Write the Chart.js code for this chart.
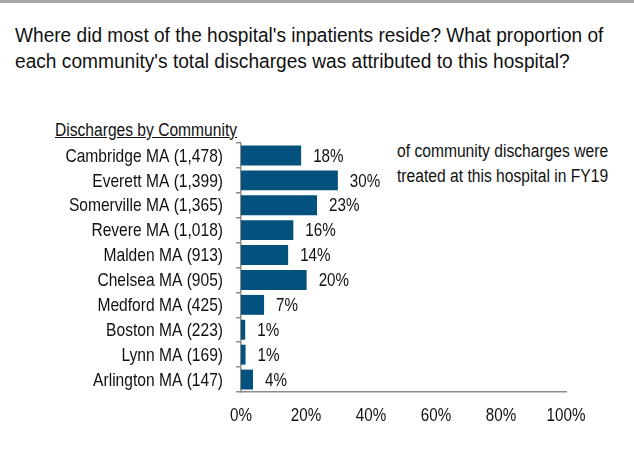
<!DOCTYPE html>
<html>
<head>
<meta charset="utf-8">
<script src="https://cdn.jsdelivr.net/npm/chart.js@4.4.1/dist/chart.umd.min.js"></script>
<style>
  html, body { margin: 0; padding: 0; background: #fff; }
  body { width: 634px; height: 455px; position: relative; overflow: hidden;
         font-family: 'Liberation Sans', Arial, sans-serif; color: #111; }
  .topbar { position: absolute; left: 0; top: 0; width: 634px; height: 3px; background: #a6a6a6; }
  .txt { position: absolute; white-space: nowrap; transform-origin: 0 0; }
  .title { left: 15px; font-size: 20px; line-height: 26px; }
  .subhead { left: 55px; top: 118px; font-size: 18px; line-height: 25px; text-decoration: underline; }
  .note { left: 397px; font-size: 18px; line-height: 25px; }
  canvas { position: absolute; left: 0; top: 0; }
</style>
</head>
<body>
<div class="topbar"></div>
<div class="txt title" style="top:22px" data-w="588">Where did most of the hospital's inpatients reside? What proportion of</div>
<div class="txt title" style="top:48px" data-w="555">each community's total discharges was attributed to this hospital?</div>
<div class="txt subhead" data-w="182">Discharges by Community</div>
<div class="txt note" style="top:139px" data-w="211">of community discharges were</div>
<div class="txt note" style="top:164px" data-w="211">treated at this hospital in FY19</div>
<canvas id="chart" width="634" height="455"></canvas>
<script>
const communities = ['Cambridge MA (1,478)', 'Everett MA (1,399)', 'Somerville MA (1,365)', 'Revere MA (1,018)',
  'Malden MA (913)', 'Chelsea MA (905)', 'Medford MA (425)', 'Boston MA (223)', 'Lynn MA (169)', 'Arlington MA (147)'];
const share = [18.5, 29.8, 23.4, 16.1, 14.5, 20.2, 7.1, 1.3, 1.4, 3.7];
const shareText = ['18%', '30%', '23%', '16%', '14%', '20%', '7%', '1%', '1%', '4%'];
const xTicks = [0, 20, 40, 60, 80, 100];

const FONT = "'Liberation Sans', Arial, sans-serif";
const axisGrey = '#8c8c8c';

// no narrow font installed: squeeze the html text to the widths in the original
document.querySelectorAll('.txt').forEach(el => {
  const target = +el.dataset.w;
  el.style.transform = 'scaleX(' + (target / el.offsetWidth) + ')';
});

// same trick for canvas text
function narrowText(ctx, text, x, y, align, sx) {
  ctx.save();
  ctx.translate(x, y);
  ctx.scale(sx, 1);
  ctx.textAlign = align;
  ctx.fillText(text, 0, 0);
  ctx.restore();
}

const narrowLabels = {
  id: 'narrowLabels',
  afterDraw(chart) {
    const ctx = chart.ctx;
    const xs = chart.scales.x, ys = chart.scales.y;
    ctx.save();
    ctx.fillStyle = '#111';
    ctx.textBaseline = 'middle';
    ctx.font = '19px ' + FONT;
    // community names
    communities.forEach((name, i) => {
      narrowText(ctx, name, ys.right - 18, ys.getPixelForTick(i) + 1, 'right', 0.82);
    });
    // x ticks
    xTicks.forEach(v => {
      narrowText(ctx, v + '%', xs.getPixelForValue(v), chart.chartArea.bottom + 24, 'center', 0.8);
    });
    // percent labels at bar ends
    chart.getDatasetMeta(0).data.forEach((bar, i) => {
      narrowText(ctx, shareText[i], bar.x + 12, bar.y + 1, 'left', 0.8);
    });
    ctx.restore();
  }
};

new Chart(document.getElementById('chart'), {
  type: 'bar',
  data: {
    labels: communities,
    datasets: [{
      data: share,
      backgroundColor: '#03527e',
      borderWidth: 0,
      categoryPercentage: 1,
      barPercentage: 0.8
    }]
  },
  options: {
    indexAxis: 'y',
    responsive: false,
    animation: false,
    layout: { padding: { left: 0, right: 68, top: 143, bottom: 0 } },
    plugins: { legend: { display: false }, tooltip: { enabled: false } },
    scales: {
      x: {
        min: 0,
        max: 100,
        afterFit(scale) { scale.height = 63; },
        afterBuildTicks(scale) { scale.ticks = xTicks.map(v => ({ value: v })); },
        grid: { display: false },
        border: { display: true, color: axisGrey, width: 1.5 },
        ticks: { color: 'rgba(0,0,0,0)', font: { family: FONT, size: 18 }, maxRotation: 0 }
      },
      y: {
        afterFit(scale) { scale.width = 241; },
        grid: { display: true, drawOnChartArea: false, drawTicks: true, tickLength: 5, color: axisGrey, lineWidth: 1.5 },
        border: { display: true, color: axisGrey, width: 1.5 },
        ticks: { color: 'rgba(0,0,0,0)', font: { family: FONT, size: 18 }, autoSkip: false }
      }
    }
  },
  plugins: [narrowLabels]
});
</script>
</body>
</html>
